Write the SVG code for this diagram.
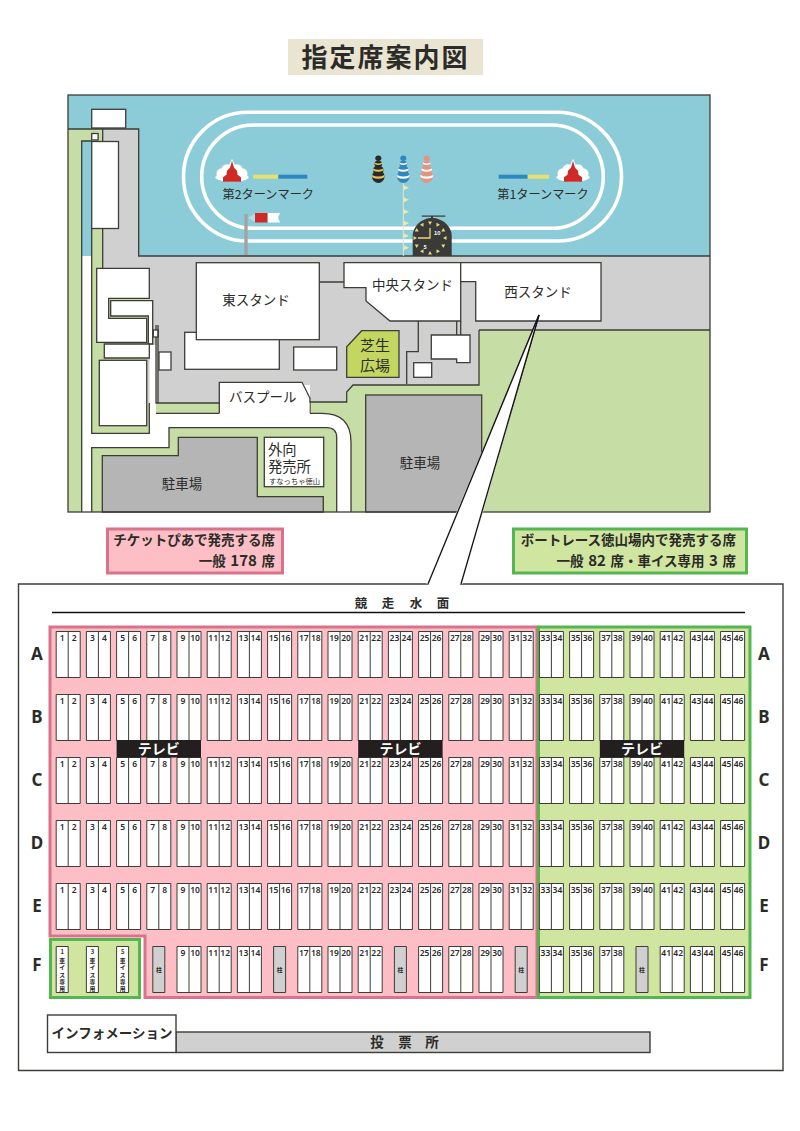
<svg xmlns="http://www.w3.org/2000/svg" width="800" height="1131" viewBox="0 0 800 1131">
<style>
text{font-family:"Noto Sans CJK JP","Noto Sans",sans-serif;fill:#2b2b28}
.m{font-size:13.500px;text-anchor:middle}
.s{font-size:12.200px;text-anchor:middle}
.b{font-weight:700}
.n{font-family:"Noto Sans","Noto Sans CJK JP",sans-serif;font-size:8.500px;font-weight:600;text-anchor:middle}
.l{font-family:"Noto Sans","Noto Sans CJK JP",sans-serif;font-size:17px;font-weight:700;text-anchor:middle}
.ln{stroke:#3c3c38;stroke-width:1.3;fill:none}
.w{fill:#fff;stroke:#3c3c38;stroke-width:1.3}
.g{fill:#d0d0d0}
.gr{fill:#c6dda5}
.p{fill:#b5b5b5;stroke:#3c3c38;stroke-width:1.3}
.seat{fill:#fff;stroke:#3c3c38;stroke-width:1}
.pil{fill:#d0d0d0;stroke:#3c3c38;stroke-width:1}
.tv{fill:#231f1e}
.track{fill:none;stroke:#fff;stroke-width:3.6}
.v{font-size:5.800px;font-weight:700;text-anchor:middle}
</style>
<defs>
<g id="mark">
<ellipse cx="0" cy="-4.500" rx="16.500" ry="4.500" fill="#fff"/><circle cx="-10" cy="-8" r="5.500" fill="#fff"/><circle cx="10" cy="-8" r="5.500" fill="#fff"/><circle cx="-5" cy="-12" r="5.500" fill="#fff"/><circle cx="5" cy="-12" r="5.500" fill="#fff"/><path d="M0-23L5-12H-5Z" fill="#fff"/>
<path d="M0-21L2-14L5-11L5.500-7L9-4.500V0H-9V-4.500L-5.500-7L-5-11L-2-14Z" fill="#cf2a27"/>
</g>
<g id="buoy">
<ellipse cx="0" cy="176.500" rx="6.300" ry="6.500" fill="currentColor"/><ellipse cx="0" cy="170" rx="5.300" ry="4.500" fill="currentColor"/><ellipse cx="0" cy="164" rx="3.800" ry="3.300" fill="currentColor"/><ellipse cx="0" cy="158.300" rx="3" ry="2.700" fill="currentColor"/>
<path d="M-6.200 175q6.200 3 12.400 0v2.200q-6.200 3-12.400 0zM-5.200 168.500q5.200 2.500 10.400 0v2q-5.200 2.500-10.400 0zM-3.700 162.500q3.700 2 7.400 0v1.500q-3.700 2-7.400 0z"/>
</g>
<polygon id="t" points="-2,-16.500 2,-16.500 0,-13" fill="#e8d878"/>
<path id="row" class="seat" d="M56.200 0h24v46h-24zm12 0v46M86.400 0h24v46h-24zm12 0v46M116.600 0h24v46h-24zm12 0v46M146.800 0h24v46h-24zm12 0v46M177 0h24v46h-24zm12 0v46M207.200 0h24v46h-24zm12 0v46M237.400 0h24v46h-24zm12 0v46M267.600 0h24v46h-24zm12 0v46M297.800 0h24v46h-24zm12 0v46M328 0h24v46h-24zm12 0v46M358.200 0h24v46h-24zm12 0v46M388.400 0h24v46h-24zm12 0v46M418.600 0h24v46h-24zm12 0v46M448.800 0h24v46h-24zm12 0v46M479 0h24v46h-24zm12 0v46M509.200 0h24v46h-24zm12 0v46M539.400 0h24v46h-24zm12 0v46M569.600 0h24v46h-24zm12 0v46M599.800 0h24v46h-24zm12 0v46M630 0h24v46h-24zm12 0v46M660.200 0h24v46h-24zm12 0v46M690.400 0h24v46h-24zm12 0v46M720.600 0h24v46h-24zm12 0v46"/>
</defs>

<g id="title"><rect x="288" y="39" width="195" height="36" fill="#e9e5d2"/><text x="385.500" y="67" font-size="26" font-weight="700" text-anchor="middle" letter-spacing="2">指定席案内図</text></g>

<g id="map">
<rect x="68" y="95" width="642" height="417" fill="#fff"/>
<rect x="68" y="95" width="642" height="161" fill="#8bccd8"/>
<path class="gr" d="M68 129H102.700V268H96.700V433.300H91.700V141H81.700V512H68Z"/>
<path class="gr" d="M91.700 228H102.700V268H149.300V433.300H91.700Z"/>
<path class="gr" d="M91.700 512V447.700H169V427.700H326.700Q336.700 427.700 336.700 437.700V512Z"/>
<path class="gr" d="M156 403H219.300V413.300H156Z"/>
<path class="gr" d="M710 330H479V385H353L346.700 392V402H310V413.300H322Q351 413.300 351 442V512H710Z"/>
<path class="g" d="M102.700 129H138.700V256H710V330H479V385H353L346.700 392V402H310V385H219V403H156V345H149.300V268H102.700Z"/>
<path class="ln" d="M68 129H138.700V256H710M102.700 129V268M81.700 512V141H91.700M91.700 228V433.300H149.300V403M479 330H710M479 330V385H353L346.700 392V402H310M219.300 403H156V325M156 413.300H219.300M310 413.300H322Q351 413.300 351 442V512M91.700 512V447.700H169V427.700H326.700Q336.700 427.700 336.700 437.700V512"/>
<rect class="g" x="146.700" y="358" width="2.600" height="45"/>

<path class="p" d="M102.300 512V455.700H178.300V437.300H257.300V496.700H323.300V512Z"/>
<rect class="p" x="365.700" y="395" width="116" height="117"/>
<rect class="w" x="264.300" y="437.300" width="59.400" height="49.400"/>

<g id="track"><rect class="track" x="183.500" y="112.300" width="438" height="128.700" rx="64.300"/><rect class="track" x="201.700" y="125" width="401.600" height="103.300" rx="51.600"/></g>

<g id="turn2"><use href="#mark" x="232" y="181.700"/><rect x="253.300" y="174.700" width="25" height="4" fill="#e8e06a"/><rect x="278.300" y="174.700" width="29" height="4" fill="#2f86c0"/></g>
<g id="turn1"><use href="#mark" x="573" y="181.700"/><rect x="498.700" y="174.700" width="29" height="4" fill="#2f86c0"/><rect x="527.700" y="174.700" width="21.300" height="4" fill="#e8e06a"/></g>
<use href="#buoy" x="378.300" color="#2a2a28" fill="#e4c45a"/>
<use href="#buoy" x="403.300" color="#2f86c0" fill="#fff"/>
<use href="#buoy" x="426.700" color="#e5937f" fill="#fff"/>
<g id="flags"><line x1="403.300" y1="183" x2="403.300" y2="256" stroke="#e6e8c8" stroke-width="1"/><path fill="#ece9ae" d="M403.800 185.200l5.200 2.500l-5.200 2.500zM403.800 197.200l5.200 2.500l-5.200 2.500zM403.800 209.200l5.200 2.500l-5.200 2.500zM403.800 220.800l5.200 2.500l-5.200 2.500zM403.800 233.200l5.200 2.500l-5.200 2.500zM403.800 245.200l5.200 2.500l-5.200 2.500z"/></g>
<g id="clock"><rect x="421.700" y="215.500" width="23.600" height="1.200" fill="#3a3a38"/><rect x="431" y="216" width="2" height="3" fill="#3a3a38"/><path d="M412.700 256V236C412.700 226 422 218 432 218C442 218 451.700 226 451.700 236V256Z" fill="#3a3a38"/>
<g transform="translate(430,238)"><use href="#t"/><use href="#t" transform="rotate(30)"/><use href="#t" transform="rotate(60)"/><use href="#t" transform="rotate(90)"/><use href="#t" transform="rotate(120)"/><use href="#t" transform="rotate(150)"/><use href="#t" transform="rotate(180)"/><use href="#t" transform="rotate(210)"/><use href="#t" transform="rotate(240)"/><use href="#t" transform="rotate(270)"/><use href="#t" transform="rotate(300)"/><use href="#t" transform="rotate(330)"/><path d="M0-10V0H-12" fill="none" stroke="#e8d878" stroke-width="1.300"/></g>
<text x="437.300" y="235" font-size="5.500" font-weight="700" text-anchor="middle" style="fill:#fff">10</text><text x="425" y="249" font-size="5.500" font-weight="700" text-anchor="middle" style="fill:#fff">5</text></g>
<g id="windsock"><rect x="244.300" y="214" width="3.400" height="41" fill="#a3a3a6"/><path d="M248 217.700L255 213.500V222Z" fill="#b5dde5"/><rect x="255" y="213" width="12.700" height="9.500" fill="#cf2a27"/><path d="M267.700 213H280L278 217.700L280 222.500H267.700Z" fill="#fff"/></g>

<rect class="w" x="91.700" y="109.300" width="34" height="18.700"/>
<rect class="w" x="91.700" y="133.500" width="6.400" height="6.500"/>
<rect class="w" x="91.700" y="141.500" width="26.800" height="87"/>

<path class="w" d="M96.700 268.300H149.300V298.300H108.700V318.300H146.700V342.300H96.700Z"/>
<path class="w" d="M110.700 300.700H152.700V344H148.300V316H110.700Z"/>
<path class="w" d="M104.300 344H149.300V358H104.300Z"/>
<rect class="w" x="99.300" y="360.300" width="47.400" height="65.400"/>
<rect class="w" x="153.300" y="330" width="5" height="7"/>
<rect class="w" x="159" y="352" width="12" height="18"/>
<path class="ln" d="M158 325V403"/>
<rect class="w" x="184.700" y="332.300" width="94.600" height="37"/>
<rect class="w" x="196.300" y="262.700" width="123" height="77"/>
<rect class="w" x="293.700" y="347" width="43" height="23"/>
<path class="ln" d="M319.500 282H344M418.300 321V351.700H406.700V384M456.700 321V335M460.700 321V335"/>
<path class="w" d="M344 262.700H460.700V321H390L366 301V287.700H344Z"/>
<path class="w" d="M460.700 262.700H601V321H475.700V281.700H460.700Z"/>
<path class="w" d="M431.300 335H470V362.700H456.700V359H431.300Z"/>
<rect class="w" x="413.700" y="362.700" width="18" height="14.600"/>
<path d="M361.700 330.700H399V377.300H346.700V346.700Z" fill="#c2d660" stroke="#3c3c38" stroke-width="1.300"/>
<path d="M219.300 413.300V382.300H302L310 398.300V413.300" fill="#fff" stroke="#3c3c38" stroke-width="1.300"/>
<rect x="220" y="403" width="89.500" height="11" fill="#fff"/>

<text class="s" x="268.300" y="199">第2ターンマーク</text>
<text class="s" x="543" y="199">第1ターンマーク</text>
<text class="m" x="256" y="305">東スタンド</text>
<text class="m" x="412.500" y="290">中央スタンド</text>
<text class="m" x="538" y="297">西スタンド</text>
<text class="m" x="375" y="351" style="font-size:15px">芝生</text>
<text class="m" x="375" y="371" style="font-size:15px">広場</text>
<text class="m" x="262.700" y="402">バスプール</text>
<text class="m" x="182" y="489">駐車場</text>
<text class="m" x="420" y="468">駐車場</text>
<text x="268" y="455" style="font-size:14.300px">外向</text>
<text x="268" y="472" style="font-size:14.300px">発売所</text>
<text x="269" y="483.500" style="font-size:7.300px">すなっちゃ徳山</text>
<rect x="68" y="95" width="642" height="417" class="ln"/>
</g>

<g id="hall">
<path d="M539 315L428 584H18.500V1070.500H783V584H461Z" fill="#fff" stroke="#3c3c38" stroke-width="1.400"/>
<path d="M426.500 584L539 315L462.500 584Z" fill="#fff"/>
<line x1="539" y1="315" x2="428" y2="584" stroke="#111" stroke-width="1.300"/>
<line x1="539" y1="315" x2="461" y2="584" stroke="#111" stroke-width="1.300"/>
</g>

<g id="legend-pia"><rect x="107.500" y="529" width="175" height="44" fill="#fdbfc5" stroke="#d9738c" stroke-width="3"/><text x="275" y="545" font-size="13.500" font-weight="700" text-anchor="end">チケットぴあで発売する席</text><text x="275" y="566" font-size="13.500" font-weight="700" text-anchor="end" word-spacing="1.500">一般 <tspan font-size="15">178</tspan> 席</text></g>
<g id="legend-site"><rect x="513.500" y="529" width="233" height="44" fill="#cfe5a0" stroke="#54b651" stroke-width="3"/><text x="736" y="545" font-size="13.500" font-weight="700" text-anchor="end">ボートレース徳山場内で発売する席</text><text x="736" y="566" font-size="13.500" font-weight="700" text-anchor="end" word-spacing="1.500">一般 <tspan font-size="15">82</tspan> 席・車イス専用 <tspan font-size="15">3</tspan> 席</text></g>

<g id="course"><text y="608" font-size="12.500" font-weight="700" text-anchor="middle"><tspan x="361">競</tspan><tspan x="388">走</tspan><tspan x="416">水</tspan><tspan x="443">面</tspan></text><line x1="52" y1="612.500" x2="745" y2="612.500" stroke="#111" stroke-width="1.300"/></g>

<g id="zones">
<path d="M50 627H537V997.500H145V936H50Z" fill="#fdbfc5" stroke="#d9738c" stroke-width="3"/>
<rect x="50.500" y="939.500" width="89" height="58" fill="#cfe5a0" stroke="#54b651" stroke-width="3"/>
<rect x="538.500" y="627" width="211.500" height="370.500" fill="#cfe5a0" stroke="#54b651" stroke-width="3"/>
</g>

<g id="seats">
<use href="#row" y="631.500"/><use href="#row" y="694.500"/><use href="#row" y="757.500"/><use href="#row" y="820.500"/><use href="#row" y="883.500"/>
<path class="seat" d="M56.200 946.500h12v46h-12zM86.400 946.500h12v46h-12zM116.600 946.500h12v46h-12zM177 946.500h24v46h-24zm12 0v46M207.200 946.500h24v46h-24zm12 0v46M237.400 946.500h24v46h-24zm12 0v46M297.800 946.500h24v46h-24zm12 0v46M328 946.500h24v46h-24zm12 0v46M358.200 946.500h24v46h-24zm12 0v46M418.600 946.500h24v46h-24zm12 0v46M448.800 946.500h24v46h-24zm12 0v46M479 946.500h24v46h-24zm12 0v46M539.400 946.500h24v46h-24zm12 0v46M569.600 946.500h24v46h-24zm12 0v46M599.800 946.500h24v46h-24zm12 0v46M660.200 946.500h24v46h-24zm12 0v46M690.400 946.500h24v46h-24zm12 0v46M720.600 946.500h24v46h-24zm12 0v46"/>
<path class="pil" d="M152.800 946.500h12v46h-12zM273.600 946.500h12v46h-12zM394.400 946.500h12v46h-12zM515.200 946.500h12v46h-12zM636 946.500h12v46h-12z"/>
</g>

<g id="tv"><rect class="tv" x="116.600" y="740" width="84.400" height="17.500"/><rect class="tv" x="358.200" y="740" width="84.400" height="17.500"/><rect class="tv" x="599.800" y="740" width="84.400" height="17.500"/>
<text x="158.800" y="754" font-size="14" font-weight="700" text-anchor="middle" style="fill:#fff">テレビ</text><text x="400.400" y="754" font-size="14" font-weight="700" text-anchor="middle" style="fill:#fff">テレビ</text><text x="642" y="754" font-size="14" font-weight="700" text-anchor="middle" style="fill:#fff">テレビ</text></g>

<g id="numbers">
<text class="n" y="640.500"><tspan x="62.2">1</tspan><tspan x="74.2">2</tspan><tspan x="92.4">3</tspan><tspan x="104.4">4</tspan><tspan x="122.6">5</tspan><tspan x="134.6">6</tspan><tspan x="152.8">7</tspan><tspan x="164.8">8</tspan><tspan x="183">9</tspan><tspan x="195">10</tspan><tspan x="213.2">11</tspan><tspan x="225.2">12</tspan><tspan x="243.4">13</tspan><tspan x="255.4">14</tspan><tspan x="273.6">15</tspan><tspan x="285.6">16</tspan><tspan x="303.8">17</tspan><tspan x="315.8">18</tspan><tspan x="334">19</tspan><tspan x="346">20</tspan><tspan x="364.2">21</tspan><tspan x="376.2">22</tspan><tspan x="394.4">23</tspan><tspan x="406.4">24</tspan><tspan x="424.6">25</tspan><tspan x="436.6">26</tspan><tspan x="454.8">27</tspan><tspan x="466.8">28</tspan><tspan x="485">29</tspan><tspan x="497">30</tspan><tspan x="515.2">31</tspan><tspan x="527.2">32</tspan><tspan x="545.4">33</tspan><tspan x="557.4">34</tspan><tspan x="575.6">35</tspan><tspan x="587.6">36</tspan><tspan x="605.8">37</tspan><tspan x="617.8">38</tspan><tspan x="636">39</tspan><tspan x="648">40</tspan><tspan x="666.2">41</tspan><tspan x="678.2">42</tspan><tspan x="696.4">43</tspan><tspan x="708.4">44</tspan><tspan x="726.6">45</tspan><tspan x="738.6">46</tspan></text>
<text class="n" y="703.500"><tspan x="62.2">1</tspan><tspan x="74.2">2</tspan><tspan x="92.4">3</tspan><tspan x="104.4">4</tspan><tspan x="122.6">5</tspan><tspan x="134.6">6</tspan><tspan x="152.8">7</tspan><tspan x="164.8">8</tspan><tspan x="183">9</tspan><tspan x="195">10</tspan><tspan x="213.2">11</tspan><tspan x="225.2">12</tspan><tspan x="243.4">13</tspan><tspan x="255.4">14</tspan><tspan x="273.6">15</tspan><tspan x="285.6">16</tspan><tspan x="303.8">17</tspan><tspan x="315.8">18</tspan><tspan x="334">19</tspan><tspan x="346">20</tspan><tspan x="364.2">21</tspan><tspan x="376.2">22</tspan><tspan x="394.4">23</tspan><tspan x="406.4">24</tspan><tspan x="424.6">25</tspan><tspan x="436.6">26</tspan><tspan x="454.8">27</tspan><tspan x="466.8">28</tspan><tspan x="485">29</tspan><tspan x="497">30</tspan><tspan x="515.2">31</tspan><tspan x="527.2">32</tspan><tspan x="545.4">33</tspan><tspan x="557.4">34</tspan><tspan x="575.6">35</tspan><tspan x="587.6">36</tspan><tspan x="605.8">37</tspan><tspan x="617.8">38</tspan><tspan x="636">39</tspan><tspan x="648">40</tspan><tspan x="666.2">41</tspan><tspan x="678.2">42</tspan><tspan x="696.4">43</tspan><tspan x="708.4">44</tspan><tspan x="726.6">45</tspan><tspan x="738.6">46</tspan></text>
<text class="n" y="766.500"><tspan x="62.2">1</tspan><tspan x="74.2">2</tspan><tspan x="92.4">3</tspan><tspan x="104.4">4</tspan><tspan x="122.6">5</tspan><tspan x="134.6">6</tspan><tspan x="152.8">7</tspan><tspan x="164.8">8</tspan><tspan x="183">9</tspan><tspan x="195">10</tspan><tspan x="213.2">11</tspan><tspan x="225.2">12</tspan><tspan x="243.4">13</tspan><tspan x="255.4">14</tspan><tspan x="273.6">15</tspan><tspan x="285.6">16</tspan><tspan x="303.8">17</tspan><tspan x="315.8">18</tspan><tspan x="334">19</tspan><tspan x="346">20</tspan><tspan x="364.2">21</tspan><tspan x="376.2">22</tspan><tspan x="394.4">23</tspan><tspan x="406.4">24</tspan><tspan x="424.6">25</tspan><tspan x="436.6">26</tspan><tspan x="454.8">27</tspan><tspan x="466.8">28</tspan><tspan x="485">29</tspan><tspan x="497">30</tspan><tspan x="515.2">31</tspan><tspan x="527.2">32</tspan><tspan x="545.4">33</tspan><tspan x="557.4">34</tspan><tspan x="575.6">35</tspan><tspan x="587.6">36</tspan><tspan x="605.8">37</tspan><tspan x="617.8">38</tspan><tspan x="636">39</tspan><tspan x="648">40</tspan><tspan x="666.2">41</tspan><tspan x="678.2">42</tspan><tspan x="696.4">43</tspan><tspan x="708.4">44</tspan><tspan x="726.6">45</tspan><tspan x="738.6">46</tspan></text>
<text class="n" y="829.500"><tspan x="62.2">1</tspan><tspan x="74.2">2</tspan><tspan x="92.4">3</tspan><tspan x="104.4">4</tspan><tspan x="122.6">5</tspan><tspan x="134.6">6</tspan><tspan x="152.8">7</tspan><tspan x="164.8">8</tspan><tspan x="183">9</tspan><tspan x="195">10</tspan><tspan x="213.2">11</tspan><tspan x="225.2">12</tspan><tspan x="243.4">13</tspan><tspan x="255.4">14</tspan><tspan x="273.6">15</tspan><tspan x="285.6">16</tspan><tspan x="303.8">17</tspan><tspan x="315.8">18</tspan><tspan x="334">19</tspan><tspan x="346">20</tspan><tspan x="364.2">21</tspan><tspan x="376.2">22</tspan><tspan x="394.4">23</tspan><tspan x="406.4">24</tspan><tspan x="424.6">25</tspan><tspan x="436.6">26</tspan><tspan x="454.8">27</tspan><tspan x="466.8">28</tspan><tspan x="485">29</tspan><tspan x="497">30</tspan><tspan x="515.2">31</tspan><tspan x="527.2">32</tspan><tspan x="545.4">33</tspan><tspan x="557.4">34</tspan><tspan x="575.6">35</tspan><tspan x="587.6">36</tspan><tspan x="605.8">37</tspan><tspan x="617.8">38</tspan><tspan x="636">39</tspan><tspan x="648">40</tspan><tspan x="666.2">41</tspan><tspan x="678.2">42</tspan><tspan x="696.4">43</tspan><tspan x="708.4">44</tspan><tspan x="726.6">45</tspan><tspan x="738.6">46</tspan></text>
<text class="n" y="892.500"><tspan x="62.2">1</tspan><tspan x="74.2">2</tspan><tspan x="92.4">3</tspan><tspan x="104.4">4</tspan><tspan x="122.6">5</tspan><tspan x="134.6">6</tspan><tspan x="152.8">7</tspan><tspan x="164.8">8</tspan><tspan x="183">9</tspan><tspan x="195">10</tspan><tspan x="213.2">11</tspan><tspan x="225.2">12</tspan><tspan x="243.4">13</tspan><tspan x="255.4">14</tspan><tspan x="273.6">15</tspan><tspan x="285.6">16</tspan><tspan x="303.8">17</tspan><tspan x="315.8">18</tspan><tspan x="334">19</tspan><tspan x="346">20</tspan><tspan x="364.2">21</tspan><tspan x="376.2">22</tspan><tspan x="394.4">23</tspan><tspan x="406.4">24</tspan><tspan x="424.6">25</tspan><tspan x="436.6">26</tspan><tspan x="454.8">27</tspan><tspan x="466.8">28</tspan><tspan x="485">29</tspan><tspan x="497">30</tspan><tspan x="515.2">31</tspan><tspan x="527.2">32</tspan><tspan x="545.4">33</tspan><tspan x="557.4">34</tspan><tspan x="575.6">35</tspan><tspan x="587.6">36</tspan><tspan x="605.8">37</tspan><tspan x="617.8">38</tspan><tspan x="636">39</tspan><tspan x="648">40</tspan><tspan x="666.2">41</tspan><tspan x="678.2">42</tspan><tspan x="696.4">43</tspan><tspan x="708.4">44</tspan><tspan x="726.6">45</tspan><tspan x="738.6">46</tspan></text>
<text class="n" y="955.500"><tspan x="183">9</tspan><tspan x="195">10</tspan><tspan x="213.2">11</tspan><tspan x="225.2">12</tspan><tspan x="243.4">13</tspan><tspan x="255.4">14</tspan><tspan x="303.8">17</tspan><tspan x="315.8">18</tspan><tspan x="334">19</tspan><tspan x="346">20</tspan><tspan x="364.2">21</tspan><tspan x="376.2">22</tspan><tspan x="424.6">25</tspan><tspan x="436.6">26</tspan><tspan x="454.8">27</tspan><tspan x="466.8">28</tspan><tspan x="485">29</tspan><tspan x="497">30</tspan><tspan x="545.4">33</tspan><tspan x="557.4">34</tspan><tspan x="575.6">35</tspan><tspan x="587.6">36</tspan><tspan x="605.8">37</tspan><tspan x="617.8">38</tspan><tspan x="666.2">41</tspan><tspan x="678.2">42</tspan><tspan x="696.4">43</tspan><tspan x="708.4">44</tspan><tspan x="726.6">45</tspan><tspan x="738.6">46</tspan></text>
<text class="v"><tspan x="62.2" y="954">1</tspan><tspan x="62.2" y="962.500">車</tspan><tspan x="62.2" y="969.500">イ</tspan><tspan x="62.2" y="976.500">ス</tspan><tspan x="62.2" y="983.500">専</tspan><tspan x="62.2" y="990.500">用</tspan><tspan x="92.4" y="954">3</tspan><tspan x="92.4" y="962.500">車</tspan><tspan x="92.4" y="969.500">イ</tspan><tspan x="92.4" y="976.500">ス</tspan><tspan x="92.4" y="983.500">専</tspan><tspan x="92.4" y="990.500">用</tspan><tspan x="122.6" y="954">5</tspan><tspan x="122.6" y="962.500">車</tspan><tspan x="122.6" y="969.500">イ</tspan><tspan x="122.6" y="976.500">ス</tspan><tspan x="122.6" y="983.500">専</tspan><tspan x="122.6" y="990.500">用</tspan></text>
<text class="v" y="972"><tspan x="158.8">柱</tspan><tspan x="279.6">柱</tspan><tspan x="400.4">柱</tspan><tspan x="521.2">柱</tspan><tspan x="642">柱</tspan></text>
</g>

<g id="row-labels">
<text class="l" x="37" y="660">A</text><text class="l" x="37" y="723">B</text><text class="l" x="37" y="786">C</text><text class="l" x="37" y="849">D</text><text class="l" x="37" y="912">E</text><text class="l" x="37" y="971">F</text>
<text class="l" x="764" y="660">A</text><text class="l" x="764" y="723">B</text><text class="l" x="764" y="786">C</text><text class="l" x="764" y="849">D</text><text class="l" x="764" y="912">E</text><text class="l" x="764" y="971">F</text>
</g>

<g id="vote"><rect x="176" y="1032" width="474" height="20.500" fill="#d0d0d0" stroke="#3c3c38" stroke-width="1.400"/><text y="1047" font-size="13.500" font-weight="700" text-anchor="middle"><tspan x="377">投</tspan><tspan x="405">票</tspan><tspan x="432">所</tspan></text></g>
<g id="info"><rect x="47.500" y="1015" width="128.500" height="37.500" fill="#fff" stroke="#3c3c38" stroke-width="1.400"/><text x="112" y="1038" font-size="13.500" font-weight="700" text-anchor="middle">インフォメーション</text></g>
</svg>
